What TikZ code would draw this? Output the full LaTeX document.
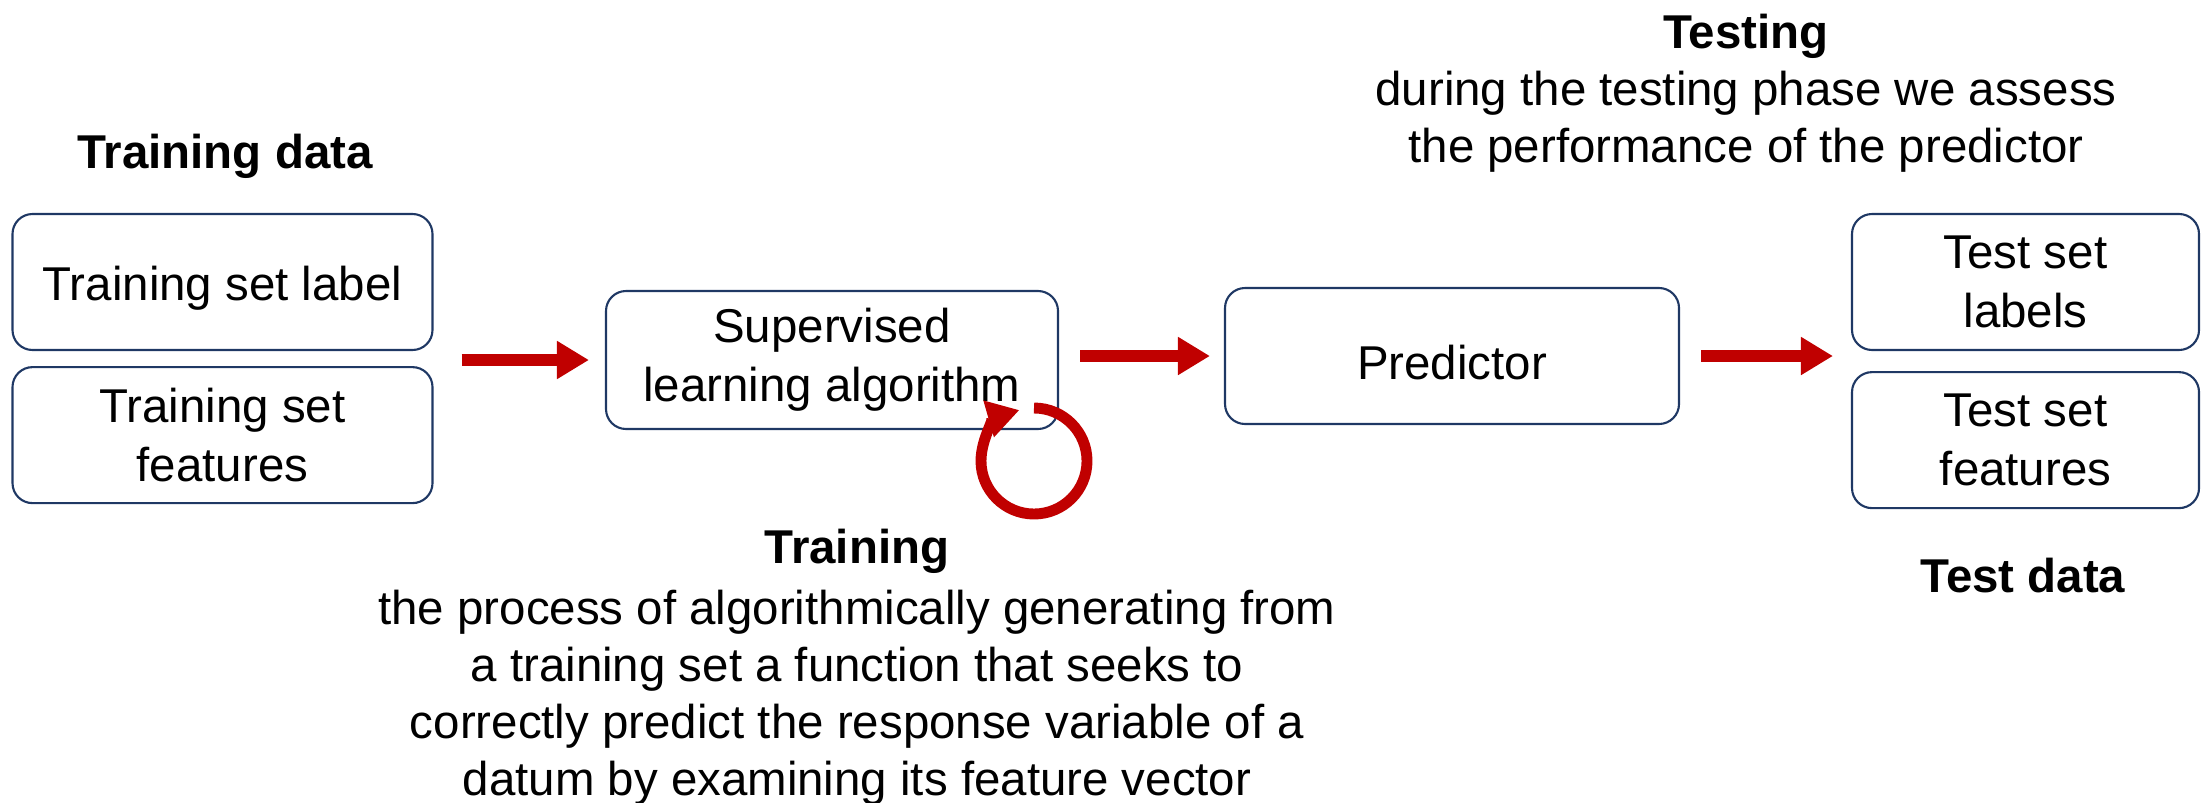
\documentclass[tikz,border=0pt]{standalone}
\usepackage{fontspec}
\setmainfont{Liberation Sans}
\usepackage{xcolor}
\usepackage{tikz}
\usetikzlibrary{positioning,arrows.meta,calc}

\definecolor{boxline}{HTML}{1F3864}
\definecolor{flowred}{HTML}{C00000}

\begin{document}
\begin{tikzpicture}[
    font=\fontsize{13.5}{16.2}\selectfont,
    box/.style={draw=boxline, line width=0.6pt, rounded corners=0.2cm,
                minimum width=4.2cm, minimum height=1.36cm, align=center,
                font=\fontsize{13.5}{16.8}\selectfont,
                execute at begin node={\rule{0pt}{13.5pt}}},
    arr/.style={draw=flowred, line width=3.2pt,
                -{Triangle[length=0.32cm, width=0.36cm]}},
    note/.style={align=center},
  ]
  \useasboundingbox (0,0) rectangle (22.03,-8.02);

  % Training data on the left
  \node[box] (trlab) at (2.225,-2.82) {Training set label};
  \node[box, below=0.15cm of trlab] (trfeat) {Training set\\features};
  \node[font=\fontsize{13.5}{16.2}\selectfont\bfseries] (trtitle) at (2.25,-1.56) {Training data};

  % Learner and predictor
  \node[box, minimum width=4.52cm, minimum height=1.38cm] (algo) at (8.32,-3.60)
        {Supervised\\learning algorithm};
  \node[box, minimum width=4.54cm] (pred) at (14.52,-3.56) {Predictor};

  % Test data on the right
  \node[box, minimum width=3.47cm] (telab) at (20.255,-2.82) {Test set\\labels};
  \node[box, minimum width=3.47cm, below=0.2cm of telab] (tefeat) {Test set\\features};
  \node[font=\fontsize{13.5}{16.2}\selectfont\bfseries] (tetitle) at (20.23,-5.76) {Test data};

  % Notes
  \node[note] (testnote) at (17.46,-0.93)
        {\textbf{Testing}\\during the testing phase we assess\\the performance of the predictor};
  \node[note] (trainnote) at (8.57,-6.67)
        {\textbf{Training}\\[1.2pt]the process of algorithmically generating from\\
         a training set a function that seeks to\\
         correctly predict the response variable of a\\
         datum by examining its feature vector};

  \draw[arr, shorten <=0.28cm, shorten >=0.16cm] (algo.west -| trlab.east) -- (algo.west);
  \draw[arr, shorten <=0.21cm, shorten >=0.14cm] (pred.west -| algo.east) -- (pred.west);
  \draw[arr, shorten <=0.21cm, shorten >=0.18cm] (pred.east) -- (pred.east -| telab.west);

  % Training loop below the learner
  \coordinate (loop) at (10.34,-4.61);
  \draw[arr, line width=3.1pt] (loop) ++(90:0.53) arc[start angle=90, end angle=-254, radius=0.53];
\end{tikzpicture}
\end{document}
